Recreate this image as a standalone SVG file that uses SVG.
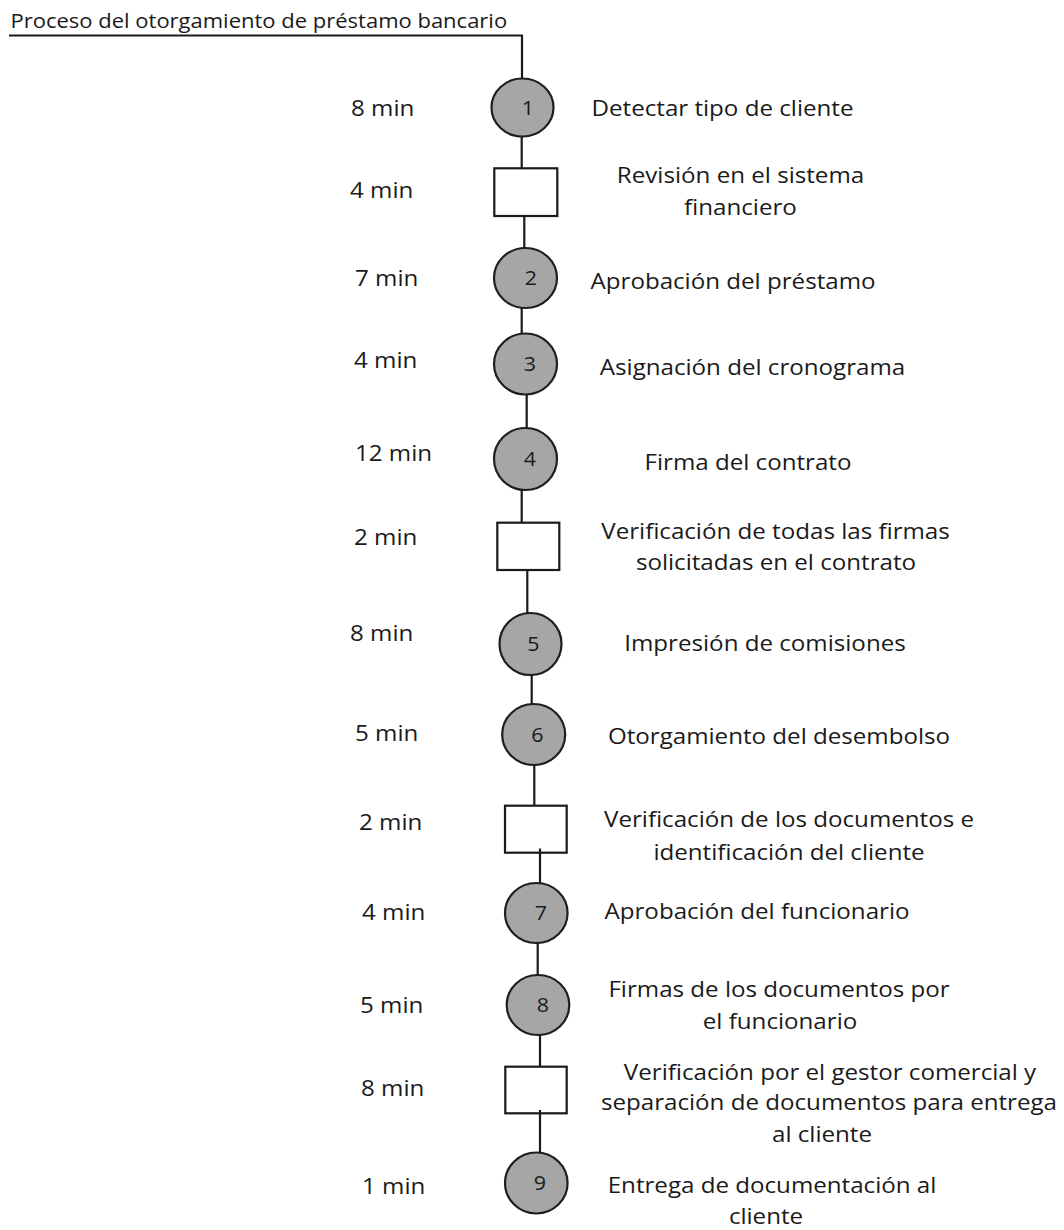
<svg xmlns="http://www.w3.org/2000/svg" width="1064" height="1230" viewBox="0 0 1064 1230">
  <style>
    .title { font-family: "Open Sans", "Noto Sans", sans-serif; font-size: 20px; fill: #1a1a1a; }
    .time { font-family: "Open Sans", "Noto Sans", sans-serif; font-size: 21px; fill: #1a1a1a; }
    .label { font-family: "Open Sans", "Noto Sans", sans-serif; font-size: 21px; fill: #1a1a1a; text-anchor: middle; }
    .num { font-family: "Open Sans", "Noto Sans", sans-serif; font-size: 19.5px; fill: #1a1a1a; text-anchor: middle; }
    .op { fill: #a6a6a6; stroke: #1e1e1e; stroke-width: 2.2; }
    .insp { fill: #ffffff; stroke: #1a1a1a; stroke-width: 2.2; }
    .conn { stroke: #1a1a1a; stroke-width: 2.2; fill: none; }
  </style>

  <rect width="1064" height="1230" fill="#ffffff"/>

  <!-- heading -->
  <g id="title">
    <text class="title" transform="translate(10.5 28) scale(1.1 1)">Proceso del otorgamiento de préstamo bancario</text>
  </g>

  <!-- process steps -->
  <g id="step-1">
    <ellipse class="op" cx="522.5" cy="107.5" rx="31" ry="29"/>
    <text class="num" transform="translate(528 114.5) scale(1.1 1)">1</text>
    <text class="time" transform="translate(351 116) scale(1.15 1)">8 min</text>
    <text class="label" transform="translate(722.5 116) scale(1.15 1)">Detectar tipo de cliente</text>
  </g>

  <g id="inspect-1">
    <rect class="insp" x="494.3" y="168.3" width="63" height="47.7"/>
    <text class="time" transform="translate(350 198) scale(1.15 1)">4 min</text>
    <text class="label" transform="translate(740.5 183) scale(1.15 1)">Revisión en el sistema</text>
    <text class="label" transform="translate(740.5 214.5) scale(1.15 1)">financiero</text>
  </g>

  <g id="step-2">
    <ellipse class="op" cx="525.5" cy="278" rx="31.5" ry="30"/>
    <text class="num" transform="translate(531 285) scale(1.1 1)">2</text>
    <text class="time" transform="translate(355 285.5) scale(1.15 1)">7 min</text>
    <text class="label" transform="translate(733 288.5) scale(1.15 1)">Aprobación del préstamo</text>
  </g>

  <g id="step-3">
    <ellipse class="op" cx="525.5" cy="364" rx="31.5" ry="30.5"/>
    <text class="num" transform="translate(530 371) scale(1.1 1)">3</text>
    <text class="time" transform="translate(354 367.5) scale(1.15 1)">4 min</text>
    <text class="label" transform="translate(752.5 375) scale(1.15 1)">Asignación del cronograma</text>
  </g>

  <g id="step-4">
    <ellipse class="op" cx="525.5" cy="459" rx="31.5" ry="31"/>
    <text class="num" transform="translate(530 466) scale(1.1 1)">4</text>
    <text class="time" transform="translate(355 460.5) scale(1.15 1)">12 min</text>
    <text class="label" transform="translate(748 470) scale(1.15 1)">Firma del contrato</text>
  </g>

  <g id="inspect-2">
    <rect class="insp" x="497.3" y="522.7" width="62" height="47.3"/>
    <text class="time" transform="translate(354 545) scale(1.15 1)">2 min</text>
    <text class="label" transform="translate(775.5 539) scale(1.15 1)">Verificación de todas las firmas</text>
    <text class="label" transform="translate(776 570) scale(1.15 1)">solicitadas en el contrato</text>
  </g>

  <g id="step-5">
    <ellipse class="op" cx="530.5" cy="644" rx="31" ry="31"/>
    <text class="num" transform="translate(533.5 651) scale(1.1 1)">5</text>
    <text class="time" transform="translate(350 640.5) scale(1.15 1)">8 min</text>
    <text class="label" transform="translate(765 651) scale(1.15 1)">Impresión de comisiones</text>
  </g>

  <g id="step-6">
    <ellipse class="op" cx="533.7" cy="734.5" rx="31.5" ry="30.5"/>
    <text class="num" transform="translate(537.5 741.5) scale(1.1 1)">6</text>
    <text class="time" transform="translate(355 740.5) scale(1.15 1)">5 min</text>
    <text class="label" transform="translate(779 744) scale(1.15 1)">Otorgamiento del desembolso</text>
  </g>

  <g id="inspect-3">
    <rect class="insp" x="505" y="805.7" width="61.7" height="47"/>
    <text class="time" transform="translate(359 830) scale(1.15 1)">2 min</text>
    <text class="label" transform="translate(789 826.5) scale(1.15 1)">Verificación de los documentos e</text>
    <text class="label" transform="translate(789 860) scale(1.15 1)">identificación del cliente</text>
  </g>

  <g id="step-7">
    <ellipse class="op" cx="536.3" cy="913" rx="31.3" ry="30"/>
    <text class="num" transform="translate(541 920) scale(1.1 1)">7</text>
    <text class="time" transform="translate(362 920) scale(1.15 1)">4 min</text>
    <text class="label" transform="translate(757 919) scale(1.15 1)">Aprobación del funcionario</text>
  </g>

  <g id="step-8">
    <ellipse class="op" cx="538" cy="1005" rx="31.3" ry="30"/>
    <text class="num" transform="translate(543 1012) scale(1.1 1)">8</text>
    <text class="time" transform="translate(360 1012.5) scale(1.15 1)">5 min</text>
    <text class="label" transform="translate(779 996.5) scale(1.15 1)">Firmas de los documentos por</text>
    <text class="label" transform="translate(780 1028.5) scale(1.15 1)">el funcionario</text>
  </g>

  <g id="inspect-4">
    <rect class="insp" x="505.3" y="1066.7" width="61.4" height="46.6"/>
    <text class="time" transform="translate(361 1096) scale(1.15 1)">8 min</text>
    <text class="label" transform="translate(830 1080) scale(1.15 1)">Verificación por el gestor comercial y</text>
    <text class="label" transform="translate(829 1110) scale(1.15 1)">separación de documentos para entrega</text>
    <text class="label" transform="translate(822 1141.5) scale(1.15 1)">al cliente</text>
  </g>

  <g id="step-9">
    <ellipse class="op" cx="536.3" cy="1183" rx="31.3" ry="30.5"/>
    <text class="num" transform="translate(540 1190) scale(1.1 1)">9</text>
    <text class="time" transform="translate(362 1194) scale(1.15 1)">1 min</text>
    <text class="label" transform="translate(772 1193) scale(1.15 1)">Entrega de documentación al</text>
    <text class="label" transform="translate(766 1223.5) scale(1.15 1)">cliente</text>
  </g>

  <!-- connectors between steps -->
  <g id="connectors">
    <polyline class="conn" points="9,35.5 522,35.5 522,78.5"/>
    <line class="conn" x1="521.7" y1="136.5" x2="521.7" y2="168.3"/>
    <line class="conn" x1="524.3" y1="216" x2="524.3" y2="248"/>
    <line class="conn" x1="521.7" y1="308" x2="521.7" y2="333.5"/>
    <line class="conn" x1="526.7" y1="394.5" x2="526.7" y2="428"/>
    <line class="conn" x1="521.7" y1="490" x2="521.7" y2="522.7"/>
    <line class="conn" x1="527.3" y1="570" x2="527.3" y2="613"/>
    <line class="conn" x1="531.7" y1="675" x2="531.7" y2="704"/>
    <line class="conn" x1="534.3" y1="765" x2="534.3" y2="805.7"/>
    <line class="conn" x1="540" y1="848.5" x2="540" y2="883"/>
    <line class="conn" x1="537.7" y1="943" x2="537.7" y2="975"/>
    <line class="conn" x1="540" y1="1035" x2="540" y2="1066.7"/>
    <line class="conn" x1="540" y1="1110" x2="540" y2="1152.5"/>
  </g>
</svg>
